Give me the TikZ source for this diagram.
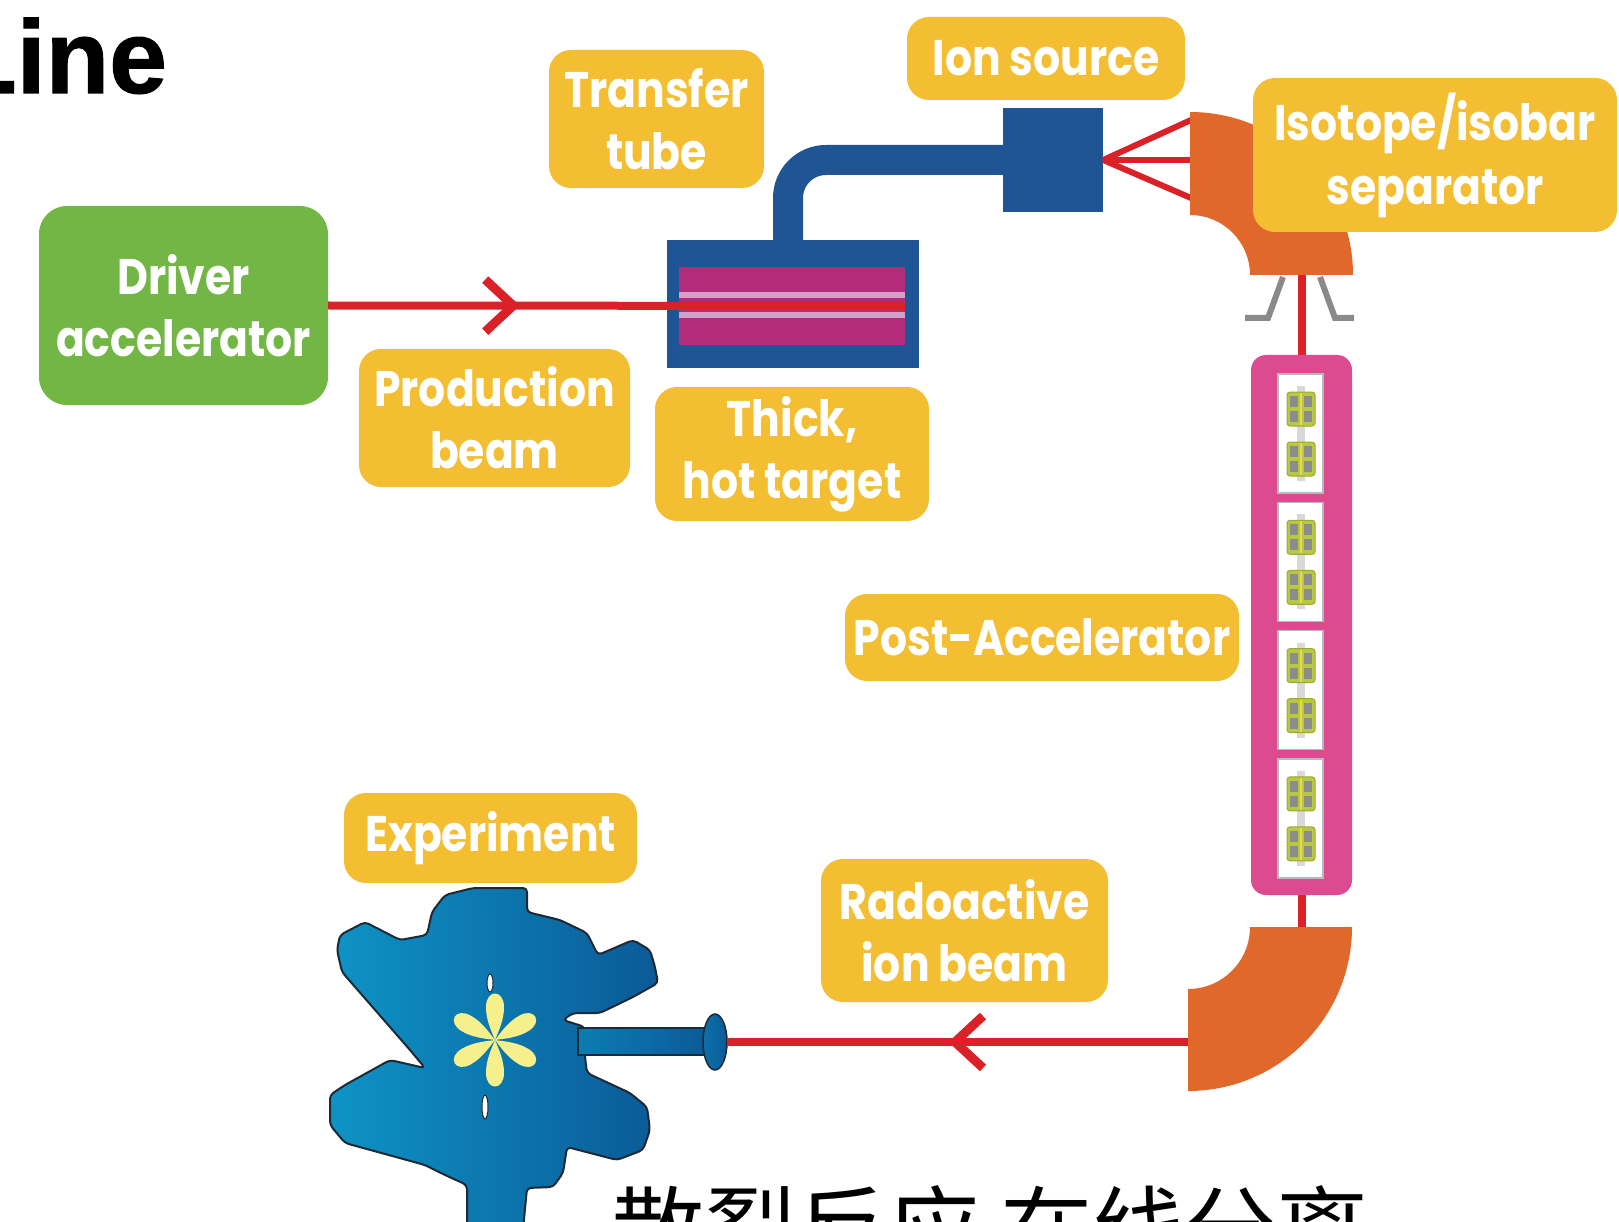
\documentclass[tikz,border=0pt]{standalone}
\usepackage{fontspec}
\usetikzlibrary{decorations.markings}
\newfontfamily\labfont[FakeStretch=0.85]{Poppins}
\newfontfamily\headfont[FakeBold=1]{Liberation Sans}
\newfontfamily\cjkfont{Noto Sans CJK SC}

\definecolor{labyellow}{HTML}{F4BE32}
\definecolor{drvgreen}{HTML}{72B646}
\definecolor{tblue}{HTML}{1F5594}
\definecolor{tmag}{HTML}{B42B7C}
\definecolor{tlight}{HTML}{D2A0C8}
\definecolor{accpink}{HTML}{DC4A8F}
\definecolor{sepor}{HTML}{E0682A}
\definecolor{beamred}{HTML}{DA2128}
\definecolor{leggray}{HTML}{8A8A8A}
\definecolor{quadlime}{HTML}{B9C843}
\definecolor{quadedge}{HTML}{9AAA2E}
\definecolor{quadgray}{HTML}{8C8C8C}
\definecolor{quadyel}{HTML}{EADB4C}
\definecolor{expl}{HTML}{0E93C6}
\definecolor{expr}{HTML}{0B5A97}
\definecolor{expline}{HTML}{1E2A33}
\definecolor{astyel}{HTML}{F6F08C}

\tikzset{
  tag/.style={fill=labyellow, rounded corners=22pt, text=white, align=center,
    inner sep=0pt, font=\labfont\bfseries\fontsize{50}{62}\selectfont},
  drvbox/.style={tag, fill=drvgreen, rounded corners=28pt},
  beam/.style={draw=beamred, line width=8pt},
  fanline/.style={draw=beamred, line width=6pt},
  legline/.style={draw=leggray, line width=6pt},
  pipe/.style={draw=tblue, line width=30pt, rounded corners=38pt},
  chevron/.style={postaction={decorate, decoration={markings,
    mark=at position #1 with {\draw[beamred, line width=9pt, line join=miter]
      (-28pt,26pt) -- (0pt,0pt) -- (-28pt,-26pt);}}}},
  cellbox/.style={fill=white, draw=gray!55, line width=1.5pt, inner sep=0pt,
    minimum width=45pt, minimum height=119pt},
}

\begin{document}
\begin{tikzpicture}[x=1pt,y=-1pt]
\useasboundingbox (0,0) rectangle (1619,1222);

% heading
\node[anchor=base west, inner sep=0pt,
  font=\headfont\bfseries\fontsize{104}{104}\selectfont] (title) at (-47,93) {Line};

% driver accelerator
\node[drvbox, minimum width=289pt, minimum height=199pt] (driver) at (183.5,305.5) {Driver\\accelerator};

% thick hot target
\node[fill=tblue, inner sep=0pt, minimum width=252pt, minimum height=128pt] (target) at (793,304) {};
\node[fill=tmag, inner sep=0pt, minimum width=226pt, minimum height=78pt] (core) at (792,306) {};
\draw[tlight, line width=6pt] ([yshift=11pt]core.west) -- ([yshift=11pt]core.east);
\draw[tlight, line width=6pt] ([yshift=-9pt]core.west) -- ([yshift=-9pt]core.east);

% ion source
\node[fill=tblue, inner sep=0pt, minimum width=100pt, minimum height=104pt] (ionsq) at (1053,160) {};

% transfer tube
\draw[pipe] ([xshift=-5pt]target.north) |- (ionsq.west);

% production beam
\draw[beam, chevron=185pt] (driver.east) -- (core.east);

% beam lines through the separator and post-accelerator
\coordinate (sepout) at (1302,275);
\coordinate (bendin) at (1302,927);
\coordinate (bendout) at (1188,1042);
\coordinate (sepa) at (1191,120);
\coordinate (sepb) at (1191,160);
\coordinate (sepc) at (1191,198);
\draw[beam] (sepout) -- (bendin);
\draw[fanline] (ionsq.east) -- (sepa);
\draw[fanline] (ionsq.east) -- (sepb);
\draw[fanline] (ionsq.east) -- (sepc);

% isotope/isobar separator magnet
\fill[sepor] (1190,112) arc[start angle=-90, end angle=0, radius=163]
  -- (1250,275) arc[start angle=0, end angle=-90, radius=60] -- cycle;
\draw[legline] (1283,277) -- (1268,318) -- (1245,318);
\draw[legline] (1320,277) -- (1335,318) -- (1354,318);

% lower bending magnet
\fill[sepor] (1352,927) arc[start angle=0, end angle=90, radius=164]
  -- (1188,989) arc[start angle=90, end angle=0, radius=62] -- cycle;

% post-accelerator
\node[fill=accpink, rounded corners=15pt, inner sep=0pt, minimum width=101pt, minimum height=540pt] (post) at (1301.5,625) {};
\foreach \i in {0,...,3} {
  \pgfmathsetmacro\t{374+128.3*\i}
  \node[cellbox] (cell\i) at (1300.5,\t+59.5) {};
  \fill[gray!30] (1297,\t+12) rectangle (1305,\t+107);
  \foreach \d in {35,85} {
    \pgfmathsetmacro\c{\t+\d}
    \filldraw[fill=quadlime, draw=quadedge, line width=1pt, rounded corners=3pt]
      (1287,\c-17) rectangle (1315,\c+17);
    \fill[quadgray] (1290,\c-13) rectangle (1298,\c-2);
    \fill[quadgray] (1304,\c-13) rectangle (1312,\c-2);
    \fill[quadgray] (1290,\c+2) rectangle (1298,\c+13);
    \fill[quadgray] (1304,\c+2) rectangle (1312,\c+13);
    \draw[quadyel, line width=2pt] (1301,\c-16) -- (1301,\c+16);
  }
}

% experiment detector
\shade[left color=expl, right color=expr, draw=expline, line width=2pt, rounded corners=4pt]
  (473,888) -- (527,888) -- (527,912) -- (560,920) -- (587,933) -- (598,955)
  -- (633,940) -- (650,950) -- (655,967) -- (658,983) -- (633,997) -- (600,1013)
  -- (573,1013) -- (563,1020) -- (585,1027) -- (585,1057) -- (587,1073)
  -- (630,1093) -- (647,1107) -- (650,1130) -- (643,1150) -- (617,1160)
  -- (567,1147) -- (563,1173) -- (553,1187) -- (527,1188) -- (522,1240)
  -- (467,1240) -- (467,1185) -- (445,1175) -- (425,1165) -- (345,1143)
  -- (330,1125) -- (330,1095) -- (345,1085) -- (390,1060) -- (425,1068)
  -- (410,1050) -- (342,972) -- (337,950) -- (340,935) -- (365,922)
  -- (400,940) -- (427,935) -- (432,912) -- (445,895) -- cycle;
\shade[left color=expl!60!expr, right color=expr, draw=expline, line width=1.5pt]
  (578,1028) rectangle (708,1055);
\shade[left color=expl!40!expr, right color=expr, draw=expline, line width=1.5pt]
  (715,1042) ellipse [x radius=12, y radius=28];
\coordinate (pipeend) at (727,1042);
\filldraw[fill=white, draw=expline, line width=1pt] (490,983) ellipse [x radius=3, y radius=9];
\filldraw[fill=white, draw=expline, line width=1pt] (485,1107) ellipse [x radius=3, y radius=12];
\foreach \a in {90,30,-30,-90,150,210} {
  \fill[astyel, rotate around={\a:(495,1040)}]
    (495,1040) .. controls (505,1036) and (515,1031) .. (528,1031)
    .. controls (546,1031) and (546,1049) .. (528,1049)
    .. controls (515,1049) and (505,1044) .. (495,1040);
}

% radioactive ion beam
\draw[beam, chevron=233pt] (bendout) -- (pipeend);

% labels
\node[tag, minimum width=215pt, minimum height=138pt] (tubelab) at (656.5,119) {Transfer\\tube};
\node[tag, minimum width=278pt, minimum height=83pt] (ionlab) at (1046,58.5) {Ion source};
\node[tag, minimum width=364pt, minimum height=154pt, font=\labfont\bfseries\fontsize{50}{64}\selectfont] (isolab) at (1435,155) {Isotope/isobar\\separator};
\node[tag, minimum width=271pt, minimum height=138pt] (prodlab) at (494.5,418) {Production\\beam};
\node[tag, minimum width=274pt, minimum height=134pt] (targlab) at (792,454) {Thick,\\hot target};
\node[tag, minimum width=394pt, minimum height=87pt] (postlab) at (1042,637.5) {Post-Accelerator};
\node[tag, minimum width=293pt, minimum height=90pt] (explab) at (490.5,838) {Experiment};
\node[tag, minimum width=287pt, minimum height=143pt] (riblab) at (964.5,930.5) {Radoactive\\ion beam};

% caption
\node[anchor=base west, inner sep=0pt, font=\cjkfont\fontsize{92}{92}\selectfont] (caption) at (612,1263) {散裂反应 在线分离};
\end{tikzpicture}
\end{document}
